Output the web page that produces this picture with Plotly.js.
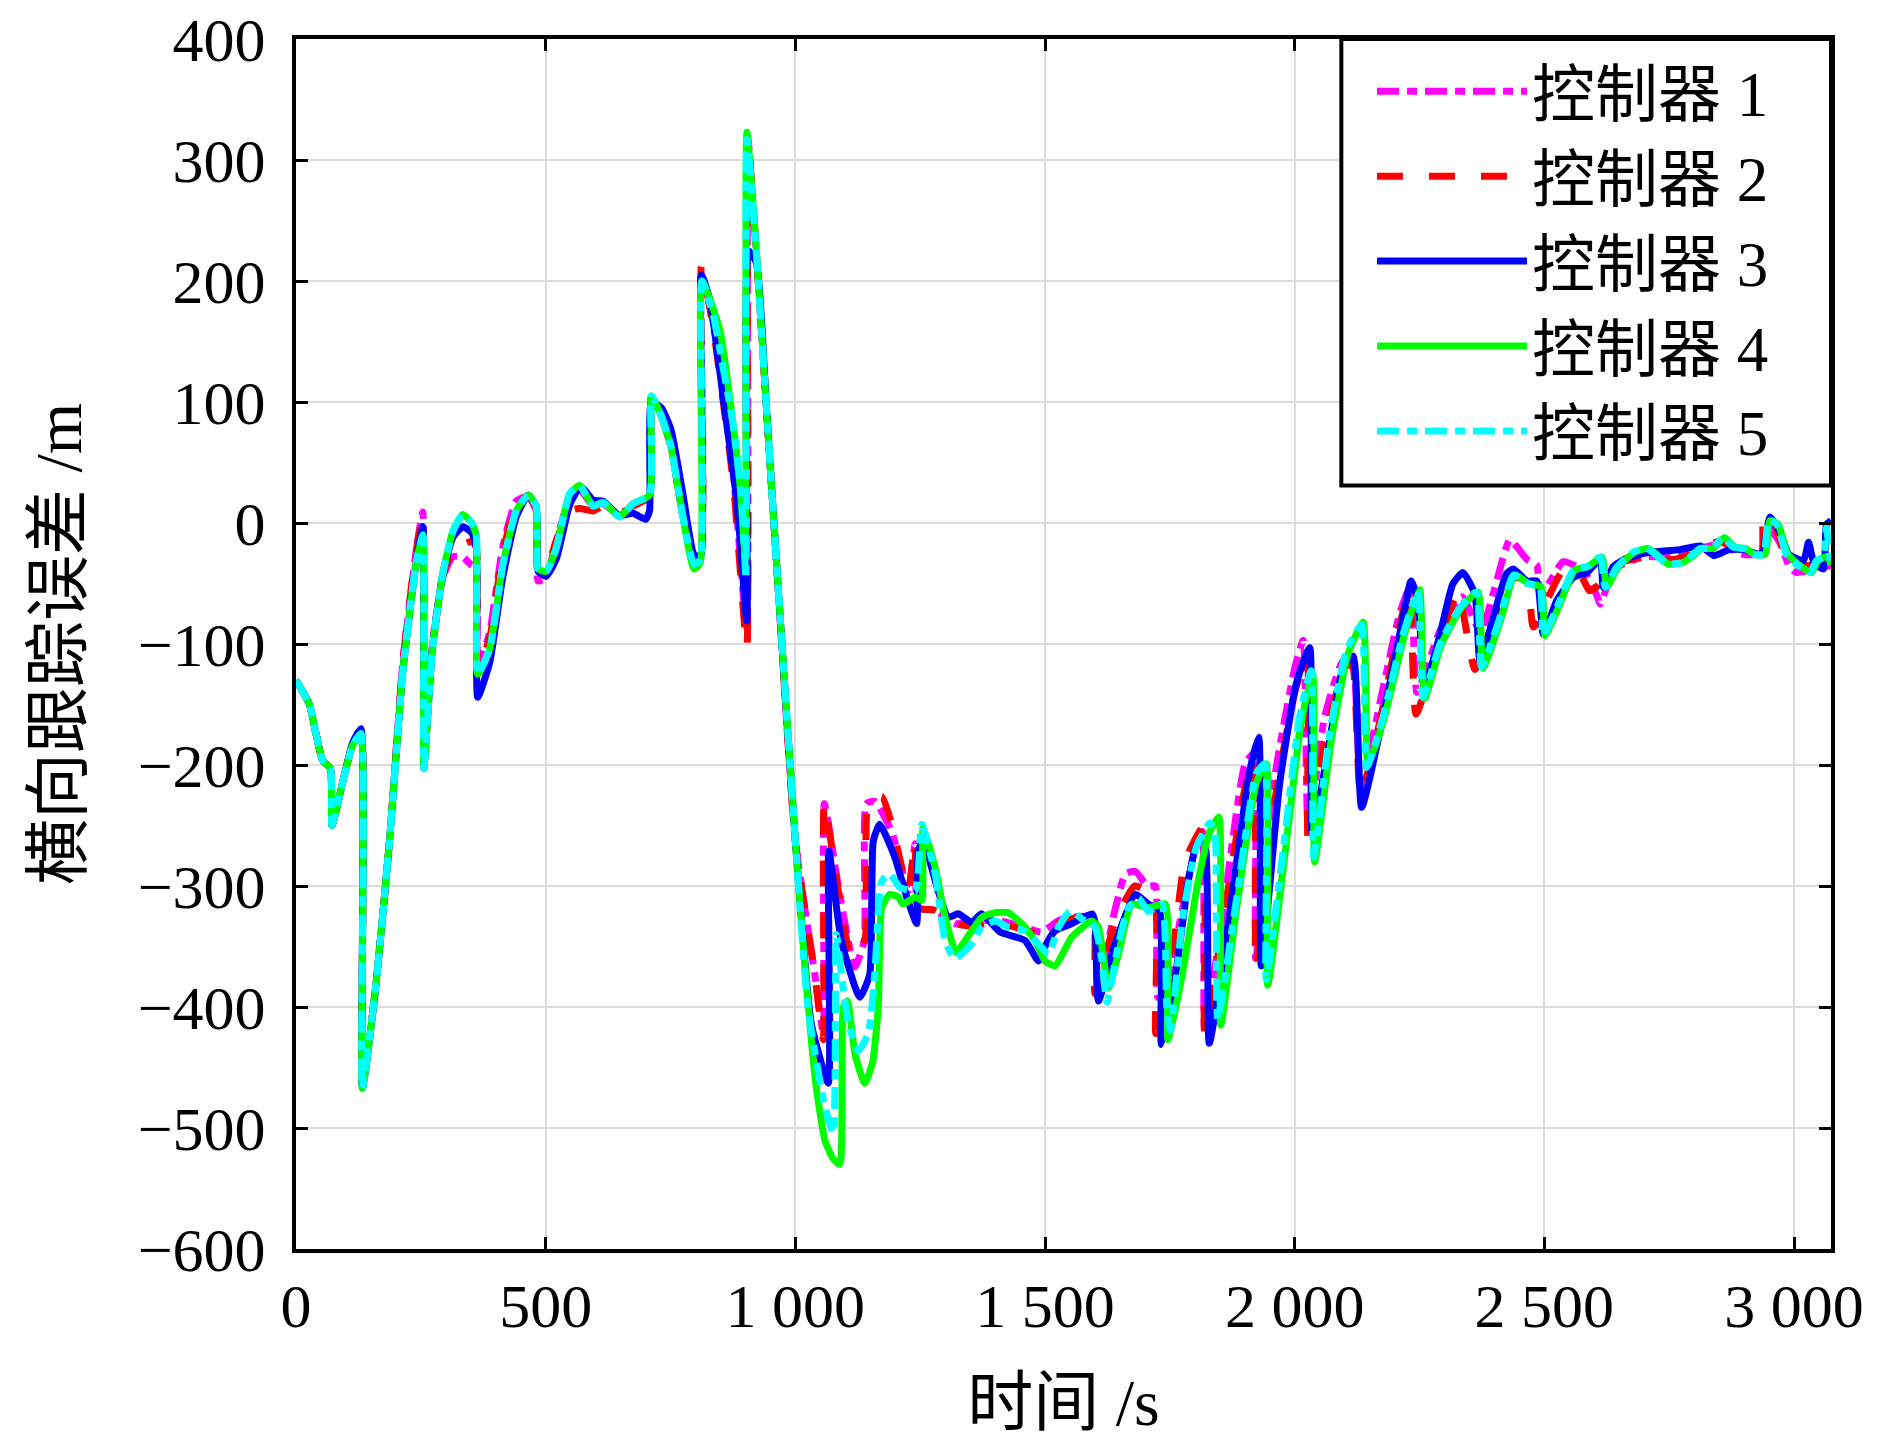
<!DOCTYPE html>
<html>
<head>
<meta charset="utf-8">
<script src="https://cdn.plot.ly/plotly-3.0.1.min.js"></script>
<style>
  html, body { margin: 0; padding: 0; background: white; }
  #chart { width: 1890px; height: 1440px; }
</style>
</head>
<body>
<div id="chart"></div>
<script>
// Lateral tracking error of five controllers, values as [time s, error m]

const ctrl1 = [
  [0,-130],[26,-149],[40,-174],[53,-196],[69,-203],[72,-250],[93,-215],[113,-184],[130,-174],[133,-467],
  [160,-382],[187,-264],[214,-115],[240,-25],[254,9],[256,-200],[273,-100],[294,-45],[314,-28],[334,-28],
  [352,-35],[361,-35],[364,-120],[388,-90],[414,-20],[441,18],[465,22],[481,10],[485,-48],[501,-45],
  [521,-15],[548,20],[568,28],[595,14],[615,16],[648,6],[675,15],[708,22],[712,105],[732,88],
  [751,63],[774,7],[797,-30],[810,-28],[812,205],[836,165],[876,40],[903,-90],[905,317],[922,222],
  [942,96],[962,-31],[1000,-263],[1039,-373],[1056,-422],[1058,-232],[1086,-300],[1119,-367],[1138,-345],[1142,-232],
  [1159,-230],[1193,-255],[1226,-304],[1240,-265],[1246,-318],[1280,-320],[1320,-331],[1353,-330],[1400,-328],[1450,-333],
  [1493,-338],[1530,-328],[1580,-325],[1600,-330],[1605,-385],[1640,-320],[1661,-290],[1681,-288],[1705,-300],[1721,-300],
  [1726,-392],[1740,-390],[1770,-330],[1800,-270],[1815,-255],[1820,-420],[1860,-310],[1900,-200],[1918,-190],[1922,-360],
  [1960,-210],[2000,-120],[2017,-97],[2027,-250],[2060,-160],[2095,-115],[2115,-110],[2132,-220],[2170,-150],[2210,-75],
  [2232,-52],[2245,-140],[2290,-90],[2335,-61],[2372,-90],[2400,-55],[2431,-14],[2465,-30],[2485,-35],[2492,-61],
  [2538,-32],[2580,-40],[2605,-60],[2612,-67],[2640,-38],[2700,-28],[2750,-28],[2800,-22],[2850,-18],[2900,-26],
  [2940,-25],[2950,-5],[2970,-15],[2990,-35],[3005,-41],[3040,-38],[3074,-35]
];

const ctrl2 = [
  [0,-130],[26,-149],[40,-174],[53,-196],[69,-203],[72,-250],[93,-215],[113,-184],[130,-174],[133,-467],
  [160,-382],[187,-264],[214,-115],[240,-25],[254,5],[256,-200],[273,-104],[294,-45],[314,-20],[334,-18],
  [352,-15],[361,-20],[364,-120],[388,-95],[414,-25],[441,15],[465,23],[481,12],[485,-35],[501,-38],
  [521,-15],[548,10],[568,12],[595,10],[615,14],[648,8],[675,14],[708,22],[712,105],[732,88],
  [751,63],[774,7],[797,-30],[810,-28],[812,212],[836,160],[876,32],[903,-103],[905,317],[922,222],
  [942,96],[962,-31],[1000,-263],[1039,-373],[1056,-427],[1058,-231],[1086,-304],[1112,-359],[1139,-345],[1146,-232],
  [1173,-226],[1193,-249],[1226,-304],[1240,-263],[1246,-318],[1280,-320],[1320,-331],[1353,-333],[1400,-330],[1450,-335],
  [1493,-340],[1530,-330],[1580,-325],[1598,-330],[1600,-389],[1640,-330],[1680,-300],[1719,-310],[1722,-422],[1754,-362],
  [1780,-280],[1817,-251],[1820,-422],[1860,-320],[1900,-220],[1918,-195],[1923,-366],[1960,-230],[2000,-140],[2025,-108],
  [2027,-262],[2060,-180],[2095,-125],[2115,-115],[2132,-225],[2170,-165],[2210,-85],[2230,-55],[2243,-158],[2290,-100],
  [2327,-57],[2361,-121],[2400,-80],[2430,-45],[2465,-48],[2478,-86],[2538,-39],[2575,-45],[2590,-56],[2604,-53],
  [2640,-35],[2700,-28],[2718,-31],[2760,-30],[2800,-25],[2850,-15],[2900,-25],[2935,-25],[2939,7],[2960,0],
  [2985,-28],[3010,-35],[3040,-35],[3074,-33]
];

const ctrl3 = [
  [0,-130],[26,-149],[40,-174],[53,-196],[69,-203],[72,-250],[93,-215],[113,-182],[130,-170],[133,-467],
  [160,-382],[187,-264],[214,-122],[240,-35],[254,-3],[256,-203],[273,-104],[294,-42],[314,-12],[334,-3],
  [352,-8],[361,-20],[364,-144],[388,-115],[414,-45],[441,5],[465,23],[481,14],[485,-40],[501,-44],
  [521,-30],[548,15],[570,30],[595,19],[615,18],[648,6],[675,8],[700,3],[708,10],[712,100],
  [732,95],[751,77],[774,26],[797,-26],[810,-28],[812,205],[829,184],[856,102],[883,17],[903,-81],
  [906,225],[922,215],[942,96],[962,-31],[1000,-263],[1032,-414],[1066,-463],[1067,-271],[1092,-345],[1129,-392],
  [1149,-373],[1156,-263],[1169,-249],[1199,-276],[1223,-309],[1243,-331],[1246,-271],[1256,-263],[1286,-304],[1306,-326],
  [1326,-323],[1353,-330],[1373,-323],[1410,-338],[1460,-345],[1487,-362],[1500,-350],[1520,-337],[1554,-331],[1594,-323],
  [1600,-330],[1607,-395],[1640,-348],[1681,-307],[1707,-315],[1729,-320],[1733,-431],[1761,-375],[1788,-293],[1805,-265],
  [1819,-262],[1829,-430],[1869,-325],[1909,-207],[1928,-177],[1933,-366],[1970,-215],[2003,-133],[2030,-103],[2035,-257],
  [2070,-180],[2097,-119],[2117,-110],[2134,-235],[2177,-160],[2217,-78],[2233,-48],[2247,-64],[2260,-136],[2291,-92],
  [2317,-50],[2337,-41],[2361,-59],[2371,-114],[2398,-78],[2424,-42],[2438,-38],[2465,-48],[2485,-48],[2498,-92],
  [2525,-64],[2558,-45],[2585,-41],[2612,-30],[2618,-53],[2638,-36],[2660,-30],[2700,-25],[2745,-23],[2772,-22],
  [2812,-19],[2840,-27],[2870,-22],[2900,-22],[2935,-26],[2952,5],[2970,-6],[2990,-26],[3019,-31],[3029,-16],
  [3040,-33],[3059,-38],[3065,-1],[3074,2]
];

const ctrl4 = [
  [0,-130],[26,-149],[40,-174],[53,-196],[69,-203],[72,-250],[93,-215],[113,-184],[130,-174],[133,-467],
  [160,-382],[187,-264],[214,-122],[240,-35],[254,-10],[256,-203],[273,-104],[294,-42],[314,-7],[334,7],
  [352,0],[361,-10],[364,-125],[388,-104],[414,-35],[441,10],[465,23],[481,14],[485,-38],[501,-40],
  [521,-21],[548,24],[568,31],[595,14],[615,17],[648,5],[675,16],[708,23],[712,105],[732,88],
  [751,63],[774,7],[797,-38],[810,-32],[813,200],[849,159],[869,102],[889,32],[900,-30],[903,323],
  [922,225],[942,96],[962,-31],[1000,-263],[1020,-370],[1040,-460],[1059,-510],[1075,-525],[1089,-530],[1096,-400],
  [1104,-395],[1120,-440],[1139,-463],[1155,-445],[1166,-400],[1173,-318],[1189,-307],[1206,-309],[1216,-315],[1240,-309],
  [1253,-312],[1256,-252],[1280,-285],[1300,-326],[1322,-355],[1345,-342],[1373,-326],[1400,-322],[1426,-322],[1453,-331],
  [1480,-345],[1500,-362],[1520,-366],[1554,-342],[1594,-329],[1607,-334],[1627,-384],[1647,-356],[1674,-315],[1707,-318],
  [1741,-315],[1746,-427],[1774,-375],[1808,-293],[1830,-255],[1848,-243],[1852,-415],[1883,-320],[1923,-215],[1943,-199],
  [1946,-382],[1980,-275],[2013,-165],[2036,-125],[2040,-280],[2073,-180],[2107,-108],[2137,-82],[2147,-200],[2180,-160],
  [2220,-92],[2250,-55],[2260,-145],[2294,-100],[2334,-70],[2367,-57],[2377,-120],[2414,-78],[2441,-43],[2468,-50],
  [2494,-53],[2501,-93],[2528,-70],[2561,-39],[2588,-36],[2615,-28],[2625,-53],[2647,-37],[2681,-24],[2708,-21],
  [2728,-27],[2748,-34],[2775,-33],[2795,-28],[2815,-21],[2838,-21],[2861,-12],[2881,-20],[2902,-21],[2922,-26],
  [2942,-26],[2952,2],[2968,-1],[2988,-26],[3008,-34],[3035,-41],[3048,-31],[3062,-28],[3068,-28],[3074,-35]
];

const ctrl5 = [
  [0,-130],[26,-149],[40,-174],[53,-196],[69,-203],[72,-250],[93,-215],[113,-184],[130,-174],[133,-467],
  [160,-382],[187,-264],[214,-122],[240,-35],[254,-10],[256,-203],[273,-104],[294,-42],[314,-7],[334,7],
  [352,0],[361,-10],[364,-125],[388,-104],[414,-35],[441,10],[465,23],[481,14],[485,-38],[501,-40],
  [521,-21],[548,24],[568,31],[595,14],[615,17],[648,5],[675,16],[708,23],[712,105],[732,88],
  [751,63],[774,7],[797,-34],[810,-30],[813,200],[836,171],[856,127],[876,80],[893,17],[901,-46],
  [903,317],[922,222],[942,96],[962,-31],[1000,-263],[1025,-400],[1059,-482],[1076,-504],[1082,-340],[1092,-372],
  [1106,-413],[1126,-436],[1146,-422],[1159,-373],[1173,-296],[1189,-290],[1209,-301],[1240,-304],[1253,-249],[1280,-290],
  [1300,-345],[1319,-360],[1353,-348],[1373,-334],[1400,-329],[1426,-334],[1460,-337],[1487,-348],[1507,-356],[1527,-334],
  [1550,-321],[1580,-329],[1600,-334],[1614,-362],[1624,-396],[1647,-348],[1667,-318],[1687,-310],[1707,-321],[1734,-315],
  [1744,-403],[1751,-419],[1776,-325],[1803,-268],[1830,-248],[1840,-255],[1846,-410],[1883,-312],[1923,-207],[1940,-199],
  [1943,-377],[1977,-270],[2010,-160],[2033,-122],[2038,-276],[2070,-174],[2104,-105],[2134,-84],[2144,-202],[2177,-160],
  [2217,-92],[2247,-56],[2257,-144],[2291,-100],[2331,-70],[2364,-57],[2374,-119],[2411,-78],[2438,-43],[2465,-50],
  [2491,-53],[2498,-93],[2525,-70],[2558,-39],[2585,-36],[2612,-28],[2622,-53],[2644,-37],[2678,-24],[2705,-21],
  [2725,-27],[2745,-34],[2772,-33],[2792,-28],[2812,-21],[2835,-21],[2858,-12],[2878,-20],[2899,-21],[2919,-26],
  [2939,-26],[2949,2],[2965,-1],[2985,-26],[3005,-34],[3032,-41],[3045,-31],[3059,-28],[3065,-4],[3072,-31]
];

const seriesNames = ['控制器 1', '控制器 2', '控制器 3', '控制器 4', '控制器 5'];
const seriesColors = ['#FF00FF', '#FF0000', '#0000FF', '#00FF00', '#00FFFF'];
const seriesDash = ['22px,8px,10px,8px', '26px,26px', 'solid', 'solid', '22px,8px,10px,8px'];

const xTickVals = [0, 500, 1000, 1500, 2000, 2500, 3000];
const xTickText = ['0', '500', '1 000', '1 500', '2 000', '2 500', '3 000'];

const serif = '"Liberation Serif", "Noto Sans CJK SC", serif';

const traces = [ctrl1, ctrl2, ctrl3, ctrl4, ctrl5].map((s, i) => ({
    type: 'scatter',
    mode: 'lines',
    x: s.map(p => p[0]),
    y: s.map(p => p[1]),
    name: seriesNames[i],
    line: {color: seriesColors[i], width: 7, dash: seriesDash[i], shape: 'spline', smoothing: 0.5}
}));

const layout = {
    width: 1890,
    height: 1440,
    margin: {l: 296, r: 59, t: 39, b: 191},
    paper_bgcolor: 'white',
    plot_bgcolor: 'white',
    font: {family: serif, size: 62, color: 'black'},
    showlegend: true,
    legend: {
        x: 0.701, y: 0.996,
        xanchor: 'left', yanchor: 'top',
        bgcolor: 'rgba(0,0,0,0)',
        borderwidth: 0,
        itemwidth: 150,
        font: {family: serif, size: 63, color: 'black'}
    },
    // legend frame, opaque like the original
    shapes: [{
        type: 'rect', xref: 'paper', yref: 'paper',
        x0: 0.681, x1: 1, y0: 0.631, y1: 1,
        fillcolor: 'white',
        line: {color: 'black', width: 4},
        layer: 'above'
    }],
    xaxis: {
        range: [0, 3074],
        tickmode: 'array',
        tickvals: xTickVals,
        ticktext: xTickText,
        ticks: 'inside',
        ticklen: 12,
        tickwidth: 3,
        tickcolor: 'black',
        showline: true,
        linewidth: 4,
        linecolor: 'black',
        mirror: 'ticks',
        showgrid: true,
        gridcolor: '#DCDCDC',
        gridwidth: 2,
        zeroline: false,
        ticklabelstandoff: 0,
        tickfont: {family: serif, size: 62},
        title: {text: '时间 /s', font: {family: serif, size: 66}, standoff: 40}
    },
    yaxis: {
        range: [-600, 400],
        dtick: 100,
        ticks: 'inside',
        ticklen: 12,
        tickwidth: 3,
        tickcolor: 'black',
        showline: true,
        linewidth: 4,
        linecolor: 'black',
        mirror: 'ticks',
        showgrid: true,
        gridcolor: '#DCDCDC',
        gridwidth: 2,
        zeroline: false,
        ticklabelstandoff: 14,
        tickfont: {family: serif, size: 62},
        title: {text: '横向跟踪误差 /m', font: {family: serif, size: 66}, standoff: 36}
    }
};

Plotly.newPlot('chart', traces, layout, {displayModeBar: false, responsive: false});
</script>
</body>
</html>
